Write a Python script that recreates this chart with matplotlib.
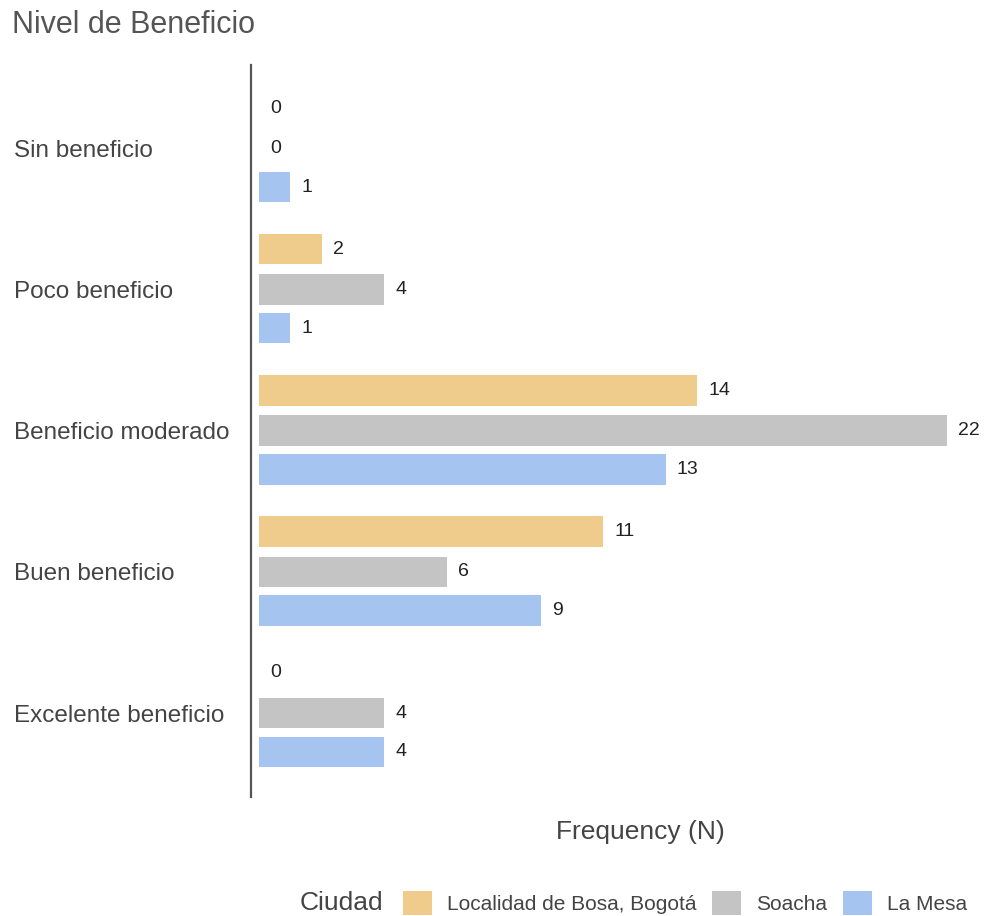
import matplotlib
matplotlib.use("Agg")
import matplotlib.pyplot as plt
from matplotlib.patches import Patch
import numpy as np

plt.rcParams['font.family'] = ['Liberation Sans', 'DejaVu Sans']

categories = ["Sin beneficio", "Poco beneficio", "Beneficio moderado",
              "Buen beneficio", "Excelente beneficio"]
series_names = ["Localidad de Bosa, Bogotá", "Soacha", "La Mesa"]
bosa = [0, 2, 14, 11, 0]
soacha = [0, 4, 22, 6, 4]
la_mesa = [1, 1, 13, 9, 4]
colors = ["#F0CC8C", "#C4C4C4", "#A5C4F0"]

W, H, DPI = 984, 916, 100
fig = plt.figure(figsize=(W / DPI, H / DPI), dpi=DPI)

# axes box in pixel coordinates
ax_left, ax_right, ax_top, ax_bottom = 251, 977, 65, 797
ax = fig.add_axes([ax_left / W, 1 - ax_bottom / H,
                   (ax_right - ax_left) / W, (ax_bottom - ax_top) / H])

y = np.arange(len(categories))
offsets = [-0.285, 0.0, 0.275]
bar_h = 0.215
text_color = "#444444"

for vals, off, col in zip([bosa, soacha, la_mesa], offsets, colors):
    pos = y + off
    ax.barh(pos, vals, height=bar_h, left=0, color=col, edgecolor="none")
    for p, v in zip(pos, vals):
        ax.annotate(str(v), (v, p), xytext=(8, 0), textcoords="offset points",
                    ha="left", va="center", fontsize=14, color="#222222")

ax.set_xlim(-0.26, 22.95)
ax.set_ylim(4.595, -0.59)
ax.set_yticks(y)
ax.set_yticklabels(categories, fontsize=17.5, color=text_color)
for lab in ax.get_yticklabels():
    lab.set_horizontalalignment("left")
ax.tick_params(axis="y", length=0, pad=(ax_left - 14) * 72 / DPI)
ax.set_xticks([])
for s in ["top", "right", "bottom"]:
    ax.spines[s].set_visible(False)
ax.spines["left"].set_color("#555555")
ax.spines["left"].set_linewidth(1.6)

fig.text(12 / W, 1 - 25 / H, "Nivel de Beneficio", fontsize=22,
         color="#555555", ha="left", va="center")
fig.text(640 / W, 1 - 832 / H, "Frequency (N)", fontsize=19,
         color=text_color, ha="center", va="center")

fig.text(300 / W, 1 - 903 / H, "Ciudad", fontsize=19, color=text_color,
         ha="left", va="center")
handles = [Patch(facecolor=c, edgecolor="none", label=n)
           for c, n in zip(colors, series_names)]
fig.legend(handles=handles, ncol=3, loc="center left",
           bbox_to_anchor=(403 / W, 1 - 903 / H), frameon=False,
           fontsize=15, handlelength=1.4, handleheight=1.35,
           handletextpad=0.72, columnspacing=0.75, borderpad=0,
           borderaxespad=0, labelcolor=text_color)

fig.savefig("out.png", dpi=DPI)
